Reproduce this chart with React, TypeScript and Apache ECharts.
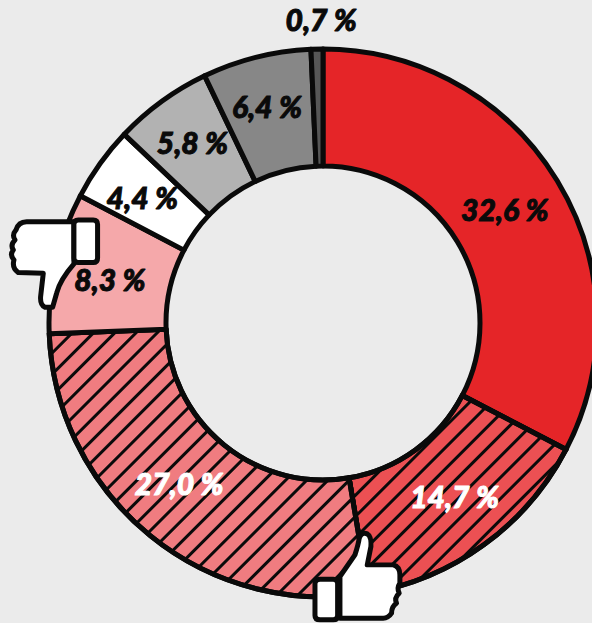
import React, { useEffect, useRef } from "react";
import * as echarts from "echarts";

const labels = ["32,6 %", "14,7 %", "27,0 %", "8,3 %", "4,4 %", "5,8 %", "6,4 %", "0,7 %"];
const values = [32.6, 14.7, 27.0, 8.3, 4.4, 5.8, 6.4, 0.7];
const colors = ["#e52528", "#ec5053", "#f07c80", "#f5a8aa", "#ffffff", "#b2b2b2", "#878787", "#575757"];
const textColors = ["#0a0a0a", "#fff", "#fff", "#0a0a0a", "#0a0a0a", "#0a0a0a", "#0a0a0a", "#0a0a0a"];
const hatched = [false, true, true, false, false, false, false, false];
const labelOffsets = [[-5, -1], [3, -4], [-6, -10], [0, 4], [-3, 1], [-2, -4], [-3, -5], [3, -86]];

const thumbUpHand = "M150 410 L195 345 Q205 315 208 295 Q215 275 232 282 Q245 290 243 320 L232 375 L310 375 Q330 380 330 405 L330 430 Q320 445 328 460 Q312 475 320 490 Q305 500 305 520 Q295 535 280 535 L150 535 Z";
const thumbUpCuff = "M90 418 L130 418 Q143 418 143 431 L143 527 Q143 540 130 540 L90 540 Q75 540 75 527 L75 431 Q75 418 90 418 Z";
const thumbDownHand = "M222 95 L80 95 Q55 95 48 120 Q35 135 45 150 Q30 165 40 180 Q28 195 42 210 Q35 235 55 248 L130 250 L122 320 Q120 345 135 352 L158 352 L170 310 Q180 270 222 222 Z";
const thumbDownCuff = "M235 90 L280 90 Q293 90 293 103 L293 205 Q293 218 280 218 L235 218 Q222 218 222 205 L222 103 Q222 90 235 90 Z";

echarts.graphic.registerShape("thumbUpHand", echarts.graphic.extendPath(thumbUpHand, {}));
echarts.graphic.registerShape("thumbUpCuff", echarts.graphic.extendPath(thumbUpCuff, {}));
echarts.graphic.registerShape("thumbDownHand", echarts.graphic.extendPath(thumbDownHand, {}));
echarts.graphic.registerShape("thumbDownCuff", echarts.graphic.extendPath(thumbDownCuff, {}));

const iconStyle = { fill: "#fff", stroke: "#0a0a0a", lineWidth: 15, lineJoin: "round" };

export default function App() {
  const ref = useRef<HTMLDivElement>(null);
  useEffect(() => {
    const chart = echarts.init(ref.current!, undefined, { renderer: "svg" });
    chart.setOption({
      animation: false,
      backgroundColor: "#ebebeb",
      series: [
        {
          type: "pie",
          center: [323, 323],
          radius: [157, 274],
          startAngle: 90,
          clockwise: true,
          silent: true,
          labelLine: { show: false },
          data: values.map((value, i) => ({
            value,
            name: labels[i],
            itemStyle: {
              color: colors[i],
              borderColor: "#0a0a0a",
              borderWidth: 5,
              decal: hatched[i]
                ? {
                    symbol: "rect",
                    symbolSize: 1,
                    rotation: -Math.PI / 4,
                    dashArrayX: [1, 0],
                    dashArrayY: [2.5, 11.5],
                    color: "#0a0a0a",
                  }
                : "none",
            },
            label: {
              show: true,
              position: "inside",
              formatter: labels[i],
              offset: labelOffsets[i],
              color: textColors[i],
              textBorderColor: textColors[i],
              textBorderWidth: 1,
              fontFamily: "Lato",
              fontWeight: 900,
              fontStyle: "italic",
              fontSize: 30,
            },
          })),
        },
      ],
      graphic: [
        { type: "thumbUpHand", x: 290, y: 440, scaleX: 1 / 3, scaleY: 1 / 3, z: 100, style: iconStyle },
        { type: "thumbUpCuff", x: 290, y: 440, scaleX: 1 / 3, scaleY: 1 / 3, z: 101, style: iconStyle },
        { type: "thumbDownHand", x: 0, y: 190, scaleX: 1 / 3, scaleY: 1 / 3, z: 100, style: iconStyle },
        { type: "thumbDownCuff", x: 0, y: 190, scaleX: 1 / 3, scaleY: 1 / 3, z: 101, style: iconStyle },
      ],
    });
    return () => chart.dispose();
  }, []);
  return <div ref={ref} style={{ position: "fixed", left: 0, top: 0, width: 592, height: 623 }} />;
}
